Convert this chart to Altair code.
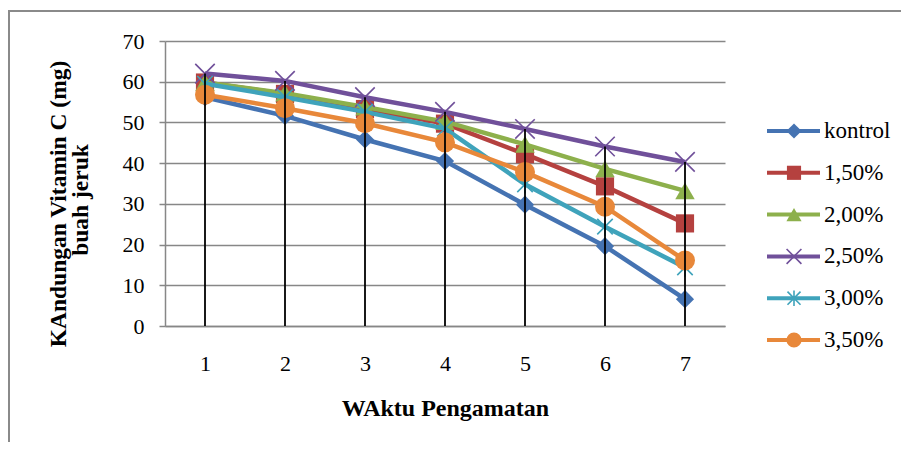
import altair as alt
import pandas as pd

# ---- data ----
waktu = [1, 2, 3, 4, 5, 6, 7]
series_names = ["kontrol", "1,50%", "2,00%", "2,50%", "3,00%", "3,50%"]
kontrol = [56.2, 51.6, 45.8, 40.5, 29.8, 19.6, 6.6]
p150 = [59.8, 57.0, 53.3, 49.7, 42.2, 34.3, 25.2]
p200 = [59.8, 57.2, 53.8, 50.2, 44.6, 38.6, 33.2]
p250 = [62.0, 60.2, 56.2, 52.6, 48.4, 44.1, 40.3]
p300 = [59.5, 56.2, 52.6, 48.5, 34.8, 24.4, 14.4]
p350 = [56.8, 53.5, 49.8, 45.1, 37.8, 29.3, 16.1]
all_values = [kontrol, p150, p200, p250, p300, p350]
y_title_lines = ["KAndungan Vitamin C (mg)", "buah jeruk"]
x_title = "WAktu Pengamatan"

colors = ["#4573B2", "#B5413F", "#8DB04C", "#70509A", "#3FA3BB", "#E8883A"]
X_PATH = "M-1,-1L1,1M-1,1L1,-1"
STAR_PATH = "M-1,-1L1,1M-1,1L1,-1M0,-1.2L0,1.2"
marker_style = [
    dict(shape="diamond", filled=True, size=330),
    dict(shape="square", filled=True, size=330),
    dict(shape="triangle-up", filled=True, size=380),
    dict(shape=X_PATH, filled=False, size=380, strokeWidth=1.6),
    dict(shape=STAR_PATH, filled=False, size=240, strokeWidth=1.6),
    dict(shape="circle", filled=True, size=400),
]
legend_sizes = [230, 200, 230, 220, 170, 230]

rows = []
for name, vals in zip(series_names, all_values):
    for w, v in zip(waktu, vals):
        rows.append({"waktu": w, "nilai": v, "seri": name})
df = pd.DataFrame(rows)
legend_df = pd.DataFrame({"seri": series_names})

FONT = "Liberation Serif"
GRAY = "#878787"

x_enc = alt.X(
    "waktu:O",
    scale=alt.Scale(type="point", padding=0.5),
    title=x_title,
    axis=alt.Axis(
        labelAngle=0, ticks=False, grid=False, domainColor=GRAY, domainWidth=1.5,
        labelFont=FONT, labelFontSize=22, labelColor="black", labelPadding=27,
        titleFont=FONT, titleFontSize=24, titleFontWeight="bold", titleColor="black",
        titlePadding=22,
    ),
)
y_axis = alt.Axis(
    values=[0, 10, 20, 30, 40, 50, 60, 70], grid=True, gridColor=GRAY, gridWidth=1.5,
    domainColor=GRAY, domainWidth=1.5, tickColor=GRAY, tickSize=6, tickWidth=1.5,
    labelFont=FONT, labelFontSize=22, labelColor="black", labelPadding=15,
)
y_scale = alt.Scale(domain=[0, 70], nice=False, zero=True)
color_enc = alt.Color("seri:N", scale=alt.Scale(domain=series_names, range=colors), legend=None)

base = alt.Chart(df)
layers = []
for name, ms in zip(series_names, marker_style):
    sub = base.transform_filter(alt.datum.seri == name)
    layers.append(
        sub.mark_line(strokeWidth=4.5).encode(
            x=x_enc, y=alt.Y("nilai:Q", scale=y_scale, axis=y_axis, title=""), color=color_enc
        )
    )
    layers.append(
        sub.mark_point(opacity=1, **ms).encode(
            x=x_enc, y=alt.Y("nilai:Q", scale=y_scale, axis=y_axis, title=""), color=color_enc
        )
    )

# drop lines from the highest point to the axis
layers.append(
    base.transform_aggregate(top="max(nilai)", groupby=["waktu"])
    .mark_rule(color="black", strokeWidth=1.8)
    .encode(x=x_enc, y=alt.Y("top:Q", scale=y_scale, axis=y_axis, title=""), y2=alt.datum(0))
)
main = alt.layer(*layers)

# y-axis title, two lines, rotated
title_layers = []
for line, xo, yo in zip(y_title_lines, [-106, -84], [163, 159]):
    title_layers.append(
        alt.Chart(pd.DataFrame({"t": [line]}))
        .mark_text(angle=270, align="center", baseline="middle", font=FONT,
                   fontSize=23.5, fontWeight="bold", color="black")
        .encode(x=alt.value(xo), y=alt.value(yo), text="t:N")
    )

# legend built from its own data and point scale
leg_y = alt.Y("seri:N", sort=series_names,
              scale=alt.Scale(type="point", range=[90, 299], padding=0), axis=None)
leg_base = alt.Chart(legend_df)
leg_layers = [
    leg_base.mark_rule(strokeWidth=4).encode(
        x=alt.value(602), x2=alt.value(655), y=leg_y, color=color_enc
    )
]
for name, ms, ls in zip(series_names, marker_style, legend_sizes):
    ms2 = dict(ms)
    ms2["size"] = ls
    leg_layers.append(
        leg_base.transform_filter(alt.datum.seri == name)
        .mark_point(opacity=1, **ms2)
        .encode(x=alt.value(629), y=leg_y, color=color_enc)
    )
leg_layers.append(
    leg_base.mark_text(align="left", baseline="middle", font=FONT, fontSize=23, color="black")
    .encode(x=alt.value(659), y=leg_y, text="seri:N")
)
legend = alt.layer(*leg_layers)

frame = alt.Chart(pd.DataFrame({"a": [0]})).mark_rect(
    fillOpacity=0, stroke="#8a8a8a", strokeWidth=2
).encode(x=alt.value(-156), x2=alt.value(760), y=alt.value(-30), y2=alt.value(420))

chart = (
    alt.layer(frame, main, *title_layers, legend)
    .resolve_scale(y="independent")
    .properties(
        width=560,
        height=285,
        autosize=alt.AutoSizeParams(type="none"),
        padding={"left": 157, "top": 33, "right": 176, "bottom": 116},
        background="white",
    )
    .configure_view(strokeWidth=0)
)

chart.save("out.html", embed_options={"renderer": "svg", "actions": False})
